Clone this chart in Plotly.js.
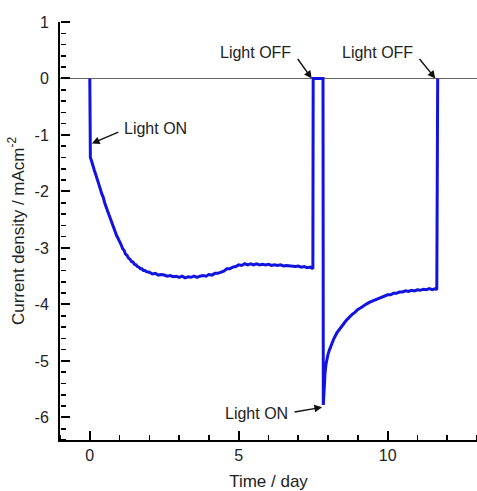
<!DOCTYPE html>
<html>
<head>
<meta charset="utf-8">
<script src="https://cdn.plot.ly/plotly-3.0.1.min.js"></script>
<style>html,body{margin:0;padding:0;background:#fff;}#chart{width:477px;height:491px;}</style>
</head>
<body>
<div id="chart"></div>
<script>
// Time (day)
const timeDay = [
  0, 0, 0.02, 0.06, 0.1, 0.15, 0.2, 0.25, 0.3, 0.35, 0.4, 0.45, 0.5, 0.55, 0.6, 0.65, 0.7, 0.75, 0.8, 0.85, 0.9, 0.95,
  1.0, 1.05, 1.1, 1.15, 1.2, 1.25, 1.3, 1.35, 1.4, 1.45, 1.5, 1.55, 1.6, 1.65, 1.7, 1.75, 1.8, 1.85, 1.9, 1.95,
  2.0, 2.1, 2.2, 2.3, 2.4, 2.5, 2.6, 2.7, 2.8, 2.9, 3.0, 3.1, 3.2, 3.3, 3.4, 3.5, 3.6, 3.7, 3.8, 3.9,
  4.0, 4.1, 4.2, 4.3, 4.4, 4.5, 4.6, 4.7, 4.8, 4.9, 5.0, 5.1, 5.2, 5.3, 5.4, 5.5, 5.6, 5.7, 5.8, 5.9,
  6.0, 6.1, 6.2, 6.3, 6.4, 6.5, 6.6, 6.7, 6.8, 6.9, 7.0, 7.1, 7.2, 7.3, 7.4, 7.47, 7.49,
  7.5, 7.83,
  7.84, 7.86, 7.88, 7.9, 7.93, 7.96, 8.0, 8.05, 8.1, 8.15, 8.2, 8.3, 8.4, 8.5, 8.6, 8.7, 8.8, 8.9,
  9.0, 9.1, 9.2, 9.3, 9.4, 9.5, 9.6, 9.7, 9.8, 9.9, 10.0, 10.1, 10.2, 10.3, 10.4, 10.5, 10.6, 10.7,
  10.8, 10.9, 11.0, 11.1, 11.2, 11.3, 11.4, 11.5, 11.6, 11.65, 11.66, 11.68
];
// Current density (mA cm^-2)
const currentDensity = [
  0, -1.3, -1.4, -1.46, -1.55, -1.62, -1.7, -1.8, -1.88, -1.95, -2.04, -2.1, -2.2, -2.26, -2.35, -2.42, -2.5, -2.55, -2.64, -2.7, -2.78, -2.83,
  -2.88, -2.94, -3.01, -3.04, -3.11, -3.13, -3.18, -3.2, -3.24, -3.25, -3.29, -3.3, -3.33, -3.34, -3.37, -3.37, -3.4, -3.4, -3.42, -3.42,
  -3.43, -3.46, -3.45, -3.48, -3.47, -3.48, -3.5, -3.49, -3.51, -3.5, -3.52, -3.5, -3.53, -3.51, -3.52, -3.5, -3.52, -3.5, -3.49, -3.5,
  -3.47, -3.48, -3.45, -3.45, -3.43, -3.41, -3.37, -3.37, -3.34, -3.33, -3.3, -3.31, -3.28, -3.3, -3.28, -3.3, -3.28, -3.3, -3.29, -3.3,
  -3.29, -3.31, -3.3, -3.31, -3.3, -3.32, -3.31, -3.32, -3.32, -3.33, -3.32, -3.34, -3.33, -3.35, -3.34, -3.37, -3.37,
  0, 0,
  -5.78, -5.55, -5.35, -5.2, -5.06, -4.96, -4.88, -4.8, -4.72, -4.66, -4.6, -4.5, -4.42, -4.36, -4.29, -4.23, -4.18, -4.14,
  -4.09, -4.06, -4.02, -3.99, -3.96, -3.94, -3.91, -3.9, -3.87, -3.86, -3.83, -3.83, -3.8, -3.8, -3.78, -3.78, -3.76, -3.77,
  -3.75, -3.76, -3.74, -3.75, -3.73, -3.74, -3.72, -3.74, -3.72, -3.74, 0, 0
];
const xTickVals = [0, 5, 10];
const xTickText = ['0', '5', '10'];
const yTickVals = [-6, -5, -4, -3, -2, -1, 0, 1];
const yTickText = ['-6', '-5', '-4', '-3', '-2', '-1', '0', '1'];

const fontFam = 'Liberation Sans, Arial, sans-serif';
const xRange = [-1, 13];
const yRange = [-6.4, 1];
const trace = {
  x: timeDay, y: currentDensity, type: 'scatter', mode: 'lines',
  line: {color: 'rgb(18,18,225)', width: 3}, hoverinfo: 'none'
};
// empty traces that only carry the tick-mark axes
const carrier2 = {x: [], y: [], xaxis: 'x2', yaxis: 'y2', type: 'scatter', mode: 'lines', hoverinfo: 'none', showlegend: false};
const carrier3 = {x: [], y: [], xaxis: 'x3', yaxis: 'y3', type: 'scatter', mode: 'lines', hoverinfo: 'none', showlegend: false};

function arrow(x, y, ax, ay) {
  return {x: x, y: y, xref: 'x', yref: 'y', text: '', showarrow: true, ax: ax, ay: ay,
    arrowhead: 2, arrowsize: 1.1, arrowwidth: 1.4, arrowcolor: '#111', standoff: 0, startstandoff: 0};
}
function label(x, y, txt, anchor) {
  return {x: x, y: y, xref: 'x', yref: 'y', text: txt, showarrow: false, xanchor: anchor, yanchor: 'middle',
    font: {family: fontFam, size: 16, color: '#222'}};
}
// tick-only axis drawn from the opposite side so that "outside" ticks point into the plot
function tickAxis(over, side, range, mode, vals, dtick, len, width) {
  const a = {
    overlaying: over, anchor: 'free', position: 0, side: side, range: range,
    showgrid: false, zeroline: false, showline: false, showticklabels: false,
    ticks: 'outside', ticklen: len, tickwidth: width, tickcolor: '#000'
  };
  if (mode === 'array') { a.tickmode = 'array'; a.tickvals = vals; }
  else { a.tickmode = 'linear'; a.tick0 = 0; a.dtick = dtick; }
  return a;
}

const layout = {
  width: 477, height: 491,
  margin: {l: 60, r: 0, t: 22, b: 51},
  paper_bgcolor: '#fff', plot_bgcolor: '#fff',
  showlegend: false,
  font: {family: fontFam, size: 16, color: '#222'},
  xaxis: {
    range: xRange, showgrid: false, zeroline: false,
    showline: true, linecolor: '#000', linewidth: 2,
    tickmode: 'array', tickvals: xTickVals, ticktext: xTickText,
    ticks: '', ticklabelstandoff: 0,
    tickfont: {family: fontFam, size: 16, color: '#222'},
    title: {text: 'Time / day', font: {family: fontFam, size: 17, color: '#222'}, standoff: 20},
    automargin: false
  },
  yaxis: {
    range: yRange, showgrid: false,
    zeroline: true, zerolinecolor: '#666', zerolinewidth: 1,
    showline: true, linecolor: '#000', linewidth: 2,
    tickmode: 'array', tickvals: yTickVals, ticktext: yTickText,
    ticks: '', ticklabelstandoff: 6,
    tickfont: {family: fontFam, size: 16, color: '#222'},
    title: {text: 'Current density / mAcm<sup>-2</sup>', font: {family: fontFam, size: 17, color: '#222'}, standoff: 6},
    automargin: false
  },
  xaxis2: tickAxis('x', 'top', xRange, 'linear', null, 1, 5, 1.6),
  yaxis2: tickAxis('y', 'right', yRange, 'linear', null, 0.2, 5, 1.6),
  xaxis3: tickAxis('x', 'top', xRange, 'array', xTickVals, null, 9, 2),
  yaxis3: tickAxis('y', 'right', yRange, 'array', yTickVals, null, 9, 2),
  annotations: [
    arrow(0.07, -1.15, 28, -12),
    label(1.07, -0.88, 'Light ON', 'left'),
    arrow(7.45, 0, -15, -21),
    label(6.81, 0.46, 'Light OFF', 'right'),
    arrow(11.6, 0, -17, -21),
    label(10.91, 0.46, 'Light OFF', 'right'),
    arrow(7.8, -5.82, -29, 5),
    label(6.71, -5.93, 'Light ON', 'right')
  ]
};

Plotly.newPlot('chart', [trace, carrier2, carrier3], layout, {staticPlot: true, displayModeBar: false});
</script>
</body>
</html>
